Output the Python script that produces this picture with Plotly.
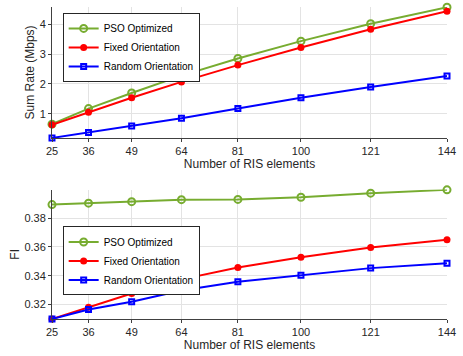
import plotly.graph_objects as go

ris_elements = [25, 36, 49, 64, 81, 100, 121, 144]
tick_labels = ["25", "36", "49", "64", "81", "100", "121", "144"]

rate_pso = [0.66, 1.18, 1.70, 2.28, 2.85, 3.43, 4.01, 4.56]
rate_fixed = [0.64, 1.06, 1.54, 2.07, 2.63, 3.22, 3.83, 4.43]
rate_random = [0.20, 0.38, 0.60, 0.86, 1.18, 1.54, 1.90, 2.27]

fi_pso = [0.3894, 0.3904, 0.3914, 0.3928, 0.3930, 0.3945, 0.3973, 0.3996]
fi_fixed = [0.3100, 0.3182, 0.3277, 0.3375, 0.3457, 0.3528, 0.3596, 0.3650]
fi_random = [0.3100, 0.3166, 0.3220, 0.3298, 0.3359, 0.3403, 0.3453, 0.3487]

names = ["PSO Optimized", "Fixed Orientation", "Random Orientation"]
colors = ["#77AC30", "#FF0000", "#0000FF"]
symbols = ["circle-open", "circle", "square-open"]
msizes = [7, 7, 5]
mlines = [2, 0, 2]

fig = go.Figure()

def add_series(ys, xa, ya, leg):
    for name, y, c, s, ms, ml in zip(names, ys, colors, symbols, msizes, mlines):
        fig.add_trace(go.Scatter(
            x=ris_elements, y=y, name=name, mode="lines+markers",
            line=dict(color=c, width=2),
            marker=dict(symbol=s, size=ms, color=c, line=dict(color=c, width=ml)),
            xaxis=xa, yaxis=ya, showlegend=True, legend=leg,
            cliponaxis=False,
        ))

add_series([rate_pso, rate_fixed, rate_random], "x", "y", "legend")
add_series([fi_pso, fi_fixed, fi_random], "x2", "y2", "legend2")

font = "Liberation Sans, Arial, sans-serif"
axis_common = dict(
    showgrid=True, gridcolor="#E3E3E3", gridwidth=1,
    showline=True, linecolor="#404040", linewidth=1,
    ticks="outside", ticklen=3, tickcolor="#404040",
    tickfont=dict(family=font, size=11, color="#262626"),
    zeroline=False,
)
xaxis_common = dict(range=[25, 144], tickvals=ris_elements, ticktext=tick_labels,
                    ticklabeloverflow="allow",
                    title=dict(text="Number of RIS elements", font=dict(size=12), standoff=2))
legend_common = dict(xanchor="left", yanchor="top", bgcolor="white",
                     bordercolor="#262626", borderwidth=1,
                     font=dict(family=font, size=10, color="#000000"),
                     tracegroupgap=0, itemwidth=30)

fig.update_layout(
    width=463, height=356,
    margin=dict(l=52, r=8, t=7, b=32),
    plot_bgcolor="white", paper_bgcolor="white",
    font=dict(family=font, color="#262626"),
    xaxis=dict(domain=[0, 1], anchor="y", **xaxis_common, **axis_common),
    yaxis=dict(domain=[0.5804, 1], anchor="x", range=[0.2, 4.57], tickvals=[1, 2, 3, 4],
               title=dict(text="Sum Rate (Mbps)", font=dict(size=12), standoff=2), **axis_common),
    xaxis2=dict(domain=[0, 1], anchor="y2", **xaxis_common, **axis_common),
    yaxis2=dict(domain=[0, 0.4148], anchor="x2", range=[0.31, 0.3998], tickvals=[0.32, 0.34, 0.36, 0.38],
                tickformat=".2f",
                title=dict(text="FI", font=dict(size=12), standoff=2), **axis_common),
    legend=dict(x=0.027, y=0.981, **legend_common),
    legend2=dict(x=0.027, y=0.2965, **legend_common),
)

fig.write_html("out.html")
